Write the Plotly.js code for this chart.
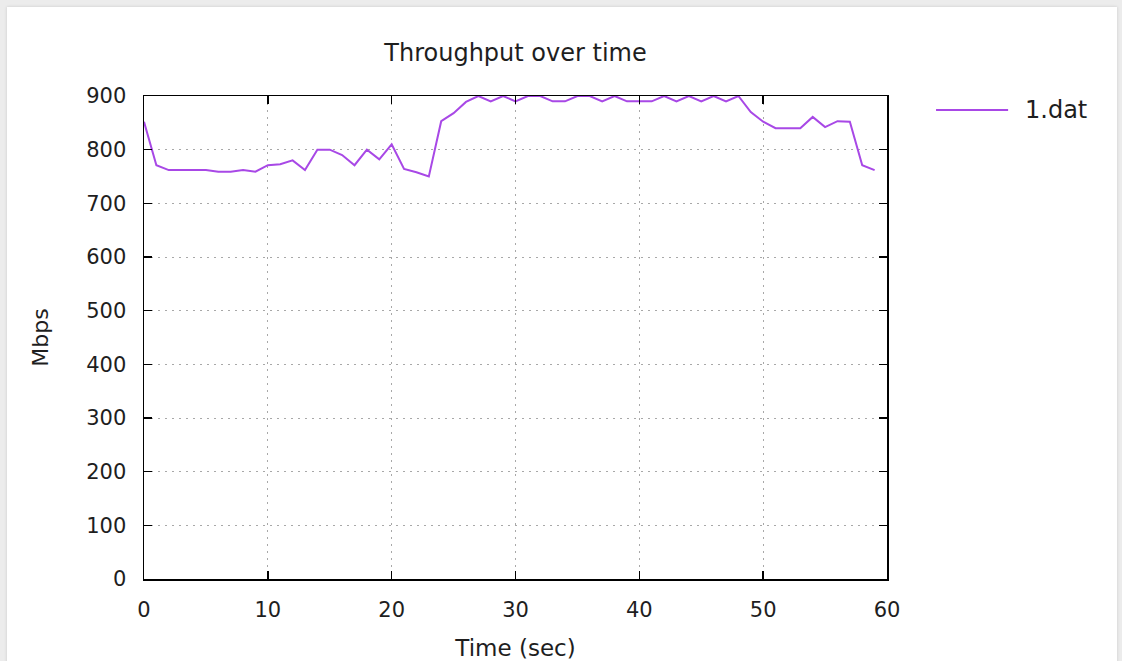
<!DOCTYPE html>
<html>
<head>
<meta charset="utf-8">
<script src="https://cdn.plot.ly/plotly-3.0.1.min.js"></script>
<style>
  html, body { margin: 0; padding: 0; width: 1122px; height: 661px; overflow: hidden; background: #ececec; }
  #frame { position: absolute; left: 7px; top: 7px; width: 1110px; height: 660px; background: #ffffff; box-shadow: 0 0 3px rgba(0,0,0,0.15); }
  #chart { position: absolute; left: 0; top: 0; width: 1122px; height: 661px; }
</style>
</head>
<body>
<div id="frame"></div>
<div id="chart"></div>
<script>
// Data
const timeSec = [0,1,2,3,4,5,6,7,8,9,10,11,12,13,14,15,16,17,18,19,20,21,22,23,24,25,26,27,28,29,30,31,32,33,34,35,36,37,38,39,40,41,42,43,44,45,46,47,48,49,50,51,52,53,54,55,56,57,58,59];
const mbps = [852,771,762,762,762,762,759,759,762,759,771,773,780,762,800,800,790,771,800,782,810,764,758,750,853,868,889,900,890,900,890,900,900,890,890,900,900,890,900,890,890,890,900,890,900,890,900,890,900,870,852,840,840,840,861,842,853,852,771,762];
const seriesName = '1.dat';
const chartTitle = 'Throughput over time';
const xTitle = 'Time (sec)';
const yTitle = 'Mbps';
const xTicks = [0,10,20,30,40,50,60];
const yTicks = [0,100,200,300,400,500,600,700,800,900];

const font = 'DejaVu Sans, sans-serif';
const lineColor = '#a848e6';
const textColor = '#1e1e1e';

const trace = {
  x: timeSec, y: mbps, type: 'scatter', mode: 'lines', name: seriesName,
  line: { color: lineColor, width: 2 }, showlegend: false, hoverinfo: 'x+y'
};

const axisCommon = {
  showline: true, linecolor: '#000', linewidth: 1.5, mirror: 'allticks',
  ticks: 'inside', ticklen: 8, tickwidth: 1.5, tickcolor: '#000',
  showgrid: true, gridcolor: '#a8a8a8', gridwidth: 1, griddash: '2px,5px',
  zeroline: false, tickfont: { family: font, size: 21, color: textColor }
};

const layout = {
  width: 1122, height: 661,
  paper_bgcolor: 'rgba(0,0,0,0)', plot_bgcolor: '#ffffff',
  margin: { l: 144, r: 235, t: 96, b: 82 },
  title: { text: chartTitle, font: { family: font, size: 24, color: textColor }, x: 0.5, xref: 'paper', xanchor: 'center', y: 0.92, yanchor: 'middle', yref: 'container' },
  xaxis: Object.assign({}, axisCommon, {
    range: [0, 60], tickvals: xTicks, ticktext: xTicks.map(String), ticklabelstandoff: 11,
    title: { text: xTitle, font: { family: font, size: 23, color: textColor }, standoff: 24 }
  }),
  yaxis: Object.assign({}, axisCommon, {
    range: [0, 900], tickvals: yTicks, ticktext: yTicks.map(String), ticklabelstandoff: 12,
    title: { text: yTitle, font: { family: font, size: 22, color: textColor }, standoff: 31 }
  }),
  shapes: [
    { type: 'line', xref: 'paper', yref: 'paper', x0: 1.066, x1: 1.163, y0: 0.971, y1: 0.971, line: { color: lineColor, width: 2 } }
  ],
  annotations: [
    { xref: 'paper', yref: 'paper', x: 1.183, y: 0.971, xanchor: 'left', yanchor: 'middle', showarrow: false, text: seriesName, font: { family: font, size: 24, color: textColor } }
  ]
};

Plotly.newPlot('chart', [trace], layout, { displayModeBar: false, staticPlot: true });
</script>
</body>
</html>
